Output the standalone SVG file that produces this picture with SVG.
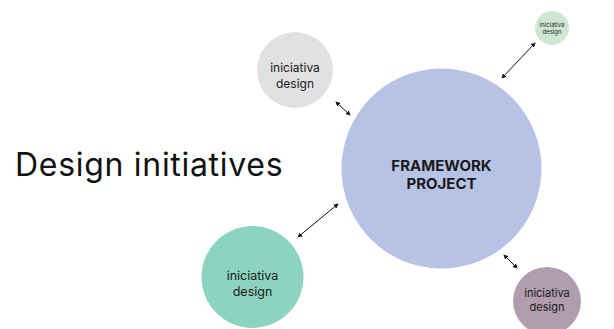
<svg xmlns="http://www.w3.org/2000/svg" width="614" height="329" viewBox="0 0 614 329">
<defs>
<style>
.lbl{font-family:Inter,"Liberation Sans",sans-serif;fill:#1a1a1a;text-anchor:middle}
.conn line{stroke:#111;stroke-width:1;marker-start:url(#ah);marker-end:url(#ah)}
</style>
<marker id="ah" viewBox="0 0 6 6" refX="5" refY="3" markerWidth="5" markerHeight="5" orient="auto-start-reverse" markerUnits="userSpaceOnUse"><path d="M0,0 L6,3 L0,6 z" fill="#111"/></marker>
</defs>
<rect width="614" height="329" fill="#fff"/>
<text x="15" y="176" font-family="Inter,'Liberation Sans',sans-serif" font-size="32" letter-spacing="0.7" fill="#111">Design initiatives</text>
<g id="main">
<circle cx="441.5" cy="168.5" r="100" fill="#b6c3e4"/>
<text class="lbl" x="441.5" y="171" font-size="15" font-weight="700">FRAMEWORK</text>
<text class="lbl" x="441.5" y="189" font-size="15" font-weight="700">PROJECT</text>
</g>
<g id="gray">
<circle cx="295" cy="70" r="38" fill="#e1e1e1"/>
<text class="lbl" x="295" y="72" font-size="12">iniciativa</text>
<text class="lbl" x="295" y="88" font-size="12">design</text>
</g>
<g id="small">
<circle cx="552" cy="28" r="17" fill="#cfe8d6"/>
<text class="lbl" x="552" y="26.5" font-size="6">iniciativa</text>
<text class="lbl" x="552" y="34" font-size="6">design</text>
</g>
<g id="green">
<circle cx="252.5" cy="277" r="51" fill="#8dd4c0"/>
<text class="lbl" x="252.5" y="279.5" font-size="12.5">iniciativa</text>
<text class="lbl" x="252.5" y="295.5" font-size="12.5">design</text>
</g>
<g id="purple">
<circle cx="547" cy="301" r="34" fill="#b09eae"/>
<text class="lbl" x="547" y="297" font-size="11">iniciativa</text>
<text class="lbl" x="547" y="311" font-size="11">design</text>
</g>
<g class="conn" id="connectors">
<line x1="336" y1="102" x2="350" y2="115"/>
<line x1="502" y1="78" x2="535" y2="43"/>
<line x1="298" y1="237" x2="338" y2="204"/>
<line x1="504" y1="255" x2="517" y2="268"/>
</g>
</svg>
